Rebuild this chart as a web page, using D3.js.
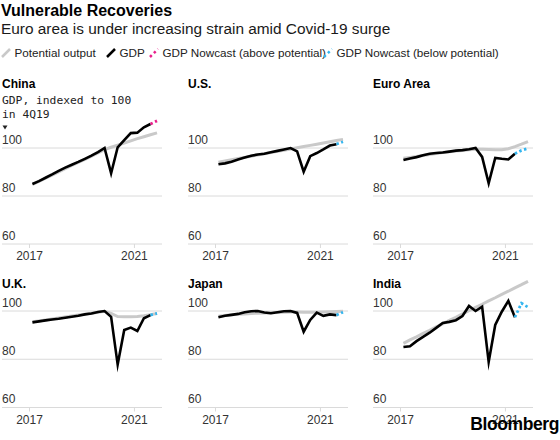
<!DOCTYPE html>
<html><head><meta charset="utf-8">
<script src="https://cdn.jsdelivr.net/npm/d3@7"></script>
<style>
body{margin:0;background:#fff;}
svg{display:block;font-family:"Liberation Sans",Arial,Helvetica,sans-serif;}
</style></head><body>
<svg id="chart" width="560" height="440"></svg>
<script>
// ---------- DATA ----------
const quarters = ["1Q17","2Q17","3Q17","4Q17","1Q18","2Q18","3Q18","4Q18","1Q19","2Q19","3Q19","4Q19",
                  "1Q20","2Q20","3Q20","4Q20","1Q21","2Q21","3Q21","4Q21"];
const xTicks = [2017, 2021];
const gridValues = [60, 80, 100];
const countries = ["China","U.S.","Euro Area","U.K.","Japan","India"];

const gdpChina = [85.0,86.2,87.6,89.0,90.5,91.8,93.0,94.2,95.5,96.8,98.3,100,89.5,100.3,103.3,106.2,106.4,108.6,110.0];
const nowChina = [111.3];
const potChina = [84.8,86.1,87.4,88.7,90.0,91.4,92.7,94.0,95.3,96.6,98.0,99.3,100.3,101.2,102.1,103.0,103.9,104.7,105.5,106.3];

const gdpUS = [93.2,93.6,94.3,95.2,96.0,96.8,97.3,97.6,98.2,98.8,99.4,100,98.6,90.1,96.6,97.9,99.4,101.0,101.6];
const nowUS = [102.6];
const potUS = [94.1,94.6,95.1,95.6,96.1,96.6,97.1,97.6,98.1,98.6,99.1,99.6,100.1,100.6,101.1,101.6,102.1,102.6,103.1,103.6];

const gdpEuro = [95.0,95.6,96.2,97.0,97.6,97.9,98.1,98.5,98.9,99.1,99.5,100,96.3,85.3,95.9,95.5,95.2,97.6];
const nowEuro = [99.0,99.8];
const potEuro = [95.7,96.1,96.5,96.9,97.3,97.7,98.1,98.4,98.7,99.0,99.3,99.5,99.5,99.4,99.3,99.3,99.7,100.6,101.6,102.7];

const gdpUK = [95.3,95.7,96.1,96.5,96.8,97.2,97.6,98.0,98.6,99.0,99.6,100,97.6,77.8,92.1,93.1,91.7,97.0,98.3];
const nowUK = [99.0];
const potUK = [95.5,95.9,96.3,96.7,97.1,97.5,97.9,98.3,98.7,99.1,99.5,99.9,99.0,97.7,97.6,97.6,97.7,98.0,98.5,99.0];

const gdpJapan = [97.4,98.0,98.4,98.8,99.5,99.9,100.0,99.4,99.1,99.5,99.9,100.0,99.2,91.4,96.3,99.3,98.0,98.6,98.3];
const nowJapan = [99.5];
const potJapan = [97.8,98.1,98.4,98.6,98.8,99.0,99.1,99.2,99.3,99.4,99.5,99.6,99.6,99.5,99.5,99.5,99.6,99.7,99.8,99.9];

const gdpIndia = [85.1,85.4,87.5,89.3,91.0,93.0,95.0,95.5,96.2,97.9,102.1,100.0,101.8,78.9,94.2,99.7,104.2,97.4];
const nowIndia = [103.2,101.6];
const potIndia = [86.6,88.0,89.3,90.7,92.0,93.4,94.7,96.1,97.4,98.8,100.1,101.5,102.8,104.2,105.5,106.9,108.2,109.6,110.9,112.3];

const nowcastSide = ["above","below","below","below","below","below"];

// ---------- STYLE ----------
const C = {gdp:"#000000", pot:"#c9c9c9", above:"#e8208c", below:"#33b5ef", grid:"#dadada", text:"#333333"};
const colLeft = [2, 188, 373];
const W = 160;
const rowY100 = [148, 311];
const rowY60 = [244, 407.5];
const titleY = [87.5, 288];
const xDomain = [2015.97, 2022.07];

function qToT(q){ const n = +q[0]; const yr = 2000 + +q.slice(2); return yr + n/4 - 0.12; }

const panels = [
  {gdp:gdpChina, now:nowChina, pot:potChina},
  {gdp:gdpUS, now:nowUS, pot:potUS},
  {gdp:gdpEuro, now:nowEuro, pot:potEuro},
  {gdp:gdpUK, now:nowUK, pot:potUK},
  {gdp:gdpJapan, now:nowJapan, pot:potJapan},
  {gdp:gdpIndia, now:nowIndia, pot:potIndia}
];

const svg = d3.select("#chart");

// ---------- HEADER ----------
svg.append("text").attr("x",1).attr("y",16).attr("font-size",16).attr("font-weight","bold")
  .attr("fill","#000").text("Vulnerable Recoveries");
svg.append("text").attr("x",1).attr("y",33.5).attr("font-size",15.4).attr("fill","#1a1a1a")
  .text("Euro area is under increasing strain amid Covid-19 surge");

// legend
const legend = [
  {label:"Potential output", color:C.pot, dotted:false, x:2},
  {label:"GDP", color:C.gdp, dotted:false, x:107},
  {label:"GDP Nowcast (above potential)", color:C.above, dotted:true, x:150},
  {label:"GDP Nowcast (below potential)", color:C.below, dotted:true, x:324}
];
const lg = svg.append("g");
legend.forEach(d => {
  lg.append("line").attr("x1",d.x).attr("y1",57).attr("x2",d.x+8).attr("y2",49)
    .attr("stroke",d.color).attr("stroke-width", 2.5)
    .attr("stroke-dasharray", d.dotted ? "2.5,3" : null);
  lg.append("text").attr("x",d.x+12.5).attr("y",57).attr("font-size",11.7).attr("fill","#222").text(d.label);
});

// ---------- PANELS ----------
panels.forEach((p,i) => {
  const col = i % 3, row = Math.floor(i/3);
  const x = d3.scaleLinear().domain(xDomain).range([colLeft[col], colLeft[col] + W]);
  const y = d3.scaleLinear().domain([60,100]).range([rowY60[row], rowY100[row]]);
  const g = svg.append("g");

  g.selectAll("line.grid").data(gridValues).join("line").attr("class","grid")
    .attr("x1", x.range()[0]).attr("x2", x.range()[1])
    .attr("y1", d => y(d)).attr("y2", d => y(d))
    .attr("stroke", C.grid).attr("stroke-width", 1);

  g.selectAll("text.ylab").data(gridValues).join("text").attr("class","ylab")
    .attr("x", x.range()[0]).attr("y", d => y(d) - 4.5)
    .attr("font-size", 12).attr("fill", C.text).text(d => d);

  const ax = g.append("g").attr("transform", `translate(0,${y(60)})`)
    .call(d3.axisBottom(x).tickValues(xTicks).tickSize(4).tickFormat(d3.format("d")));
  ax.select(".domain").remove();
  ax.selectAll(".tick line").attr("stroke", C.grid);
  ax.selectAll(".tick text").attr("y", 16).attr("dy", 0)
    .attr("font-size", 12).attr("fill", C.text)
    .attr("font-family", '"Liberation Sans",Arial,Helvetica,sans-serif');

  g.append("text").attr("x", x.range()[0]).attr("y", titleY[row])
    .attr("font-size", 12).attr("font-weight", "bold").attr("fill", "#000").text(countries[i]);

  const line = d3.line().x(d => x(qToT(d.q))).y(d => y(d.v));
  const potData = p.pot.map((v,k) => ({q:quarters[k], v}));
  const gdpData = p.gdp.map((v,k) => ({q:quarters[k], v}));
  const n = p.gdp.length;
  const nowData = [gdpData[n-1]].concat(p.now.map((v,k) => ({q:quarters[n+k], v})));

  g.append("path").datum(potData).attr("d", line).attr("fill","none")
    .attr("stroke", C.pot).attr("stroke-width", 3);
  g.append("path").datum(gdpData).attr("d", line).attr("fill","none")
    .attr("stroke", C.gdp).attr("stroke-width", 2.6).attr("stroke-linejoin","miter").attr("stroke-miterlimit", 10);
  g.append("path").datum(nowData).attr("d", line).attr("fill","none")
    .attr("stroke", nowcastSide[i] === "above" ? C.above : C.below)
    .attr("stroke-width", 2.8).attr("stroke-dasharray", "2.5,2.5");
});

// annotation on China panel
const ann = svg.append("g").attr("font-family", '"DejaVu Sans Mono","Liberation Mono",monospace')
  .attr("font-size", 11.3).attr("fill", "#222");
ann.append("text").attr("x", 2).attr("y", 104).text("GDP, indexed to 100");
ann.append("text").attr("x", 2).attr("y", 118).text("in 4Q19");
ann.append("path").attr("d", "M2.5,125.5 L7.5,125.5 L5,129.5 Z").attr("fill", "#222");

// Bloomberg wordmark
svg.append("text").attr("x", 559).attr("y", 429.5).attr("text-anchor","end")
  .attr("font-size", 17.5).attr("font-weight","bold").attr("letter-spacing", -0.4).attr("fill","#000")
  .text("Bloomberg");
</script>
</body></html>
